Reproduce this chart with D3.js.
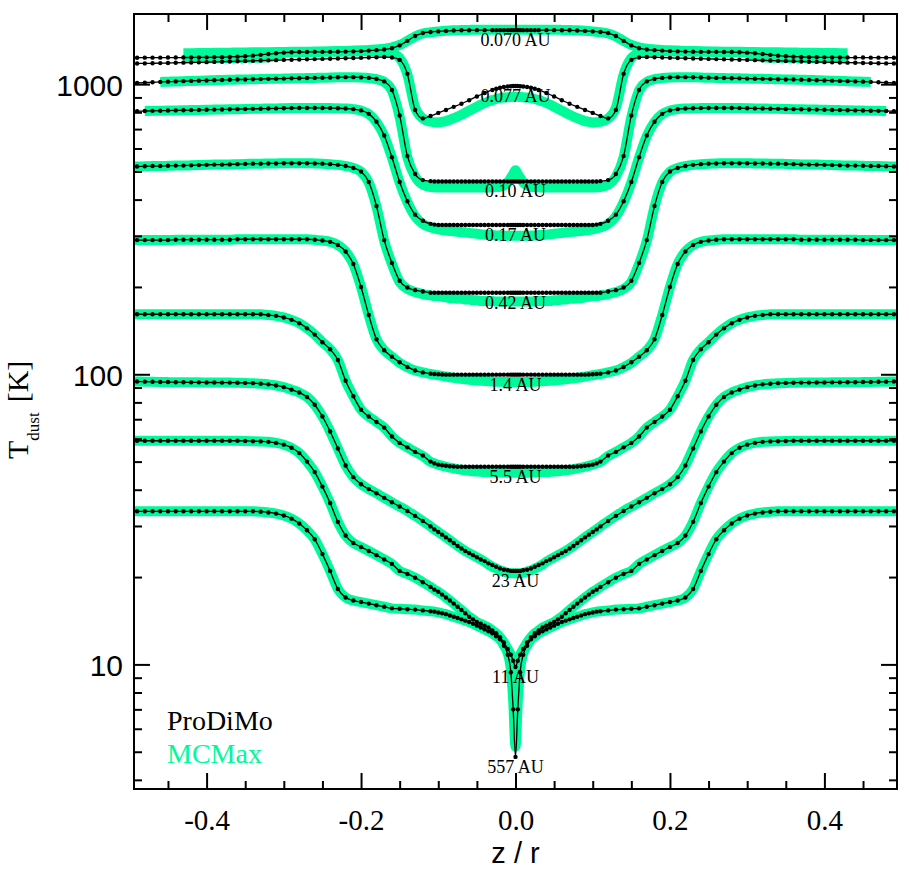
<!DOCTYPE html>
<html>
<head>
<meta charset="utf-8">
<script src="https://cdn.jsdelivr.net/npm/d3@7"></script>
<style>
  body { margin: 0; background: #fff; }
</style>
</head>
<body>
<script>
// z/r grid of the vertical cuts (upper half, mirrored for z < 0)
var zGrid = [0, 0.003, 0.006, 0.01,
  0.015, 0.02, 0.025, 0.03, 0.035, 0.04, 0.045, 0.05, 0.055, 0.06,
  0.065, 0.07, 0.075, 0.08, 0.085, 0.09, 0.095, 0.10, 0.105, 0.11,
  0.12, 0.13, 0.14, 0.15, 0.16, 0.17, 0.18, 0.19, 0.20, 0.21,
  0.22, 0.23, 0.24, 0.25, 0.26, 0.27, 0.28, 0.29, 0.30, 0.31,
  0.32, 0.33, 0.34, 0.35, 0.36, 0.37, 0.38, 0.39, 0.40, 0.41,
  0.42, 0.43, 0.44, 0.45, 0.46, 0.47, 0.48, 0.49, 0.50];

var radiusLabels = ['0.070 AU', '0.077 AU', '0.10 AU', '0.17 AU', '0.42 AU',
  '1.4 AU', '5.5 AU', '23 AU', '11 AU', '557 AU'];

// ProDiMo dust temperatures [K] on zGrid (null = no grid point there)
var pd070 = [1535, 1535, 1535, 1535,
  1535, 1535, 1535, 1535, null, 1535, null, 1535, null, 1534,
  null, 1533, null, 1530, null, 1526, null, 1520, null, 1512,
  1500, 1465, 1410, 1360, 1330, 1316, 1310, 1305, 1300, 1297,
  1295, 1293, 1292, 1292, 1292, 1291, 1290, 1288, 1284, 1278,
  1270, 1262, 1254, 1248, 1244, 1241, 1239, 1238, 1237, 1236,
  1236, 1235, 1235, 1235, 1234, 1234, 1234, 1233, 1233];
var pd077 = [985, 985, 984, 982,
  978, 972, 964, 955, null, 932, null, 907, null, 880,
  null, 856, null, 835, null, 815, null, 796, null, 777,
  762, 815, 1085, 1212, 1236, 1240, 1238, 1235, 1232, 1230,
  1228, 1226, 1224, 1222, 1220, 1218, 1216, 1214, 1212, 1210,
  1208, 1206, 1203, 1201, 1199, 1197, 1195, 1193, 1191, 1189,
  1188, 1186, 1185, 1183, 1182, 1180, 1179, 1178, 1176];
var pd010 = [462, 462, 462, 462,
  462, 462, 462, 462, 462, 462, 462, 462, 462, 462,
  462, 462, 462, 462, 462, 462, 462, 462, 462, 463,
  467, 490, 565, 780, 955, 1022, 1042, 1051, 1055, 1057,
  1057, 1056, 1054, 1052, 1051, 1050, 1048, 1047, 1045, 1044,
  1043, 1041, 1040, 1038, 1037, 1035, 1034, 1032, 1030, 1028,
  1026, 1024, 1022, 1020, 1018, 1015, 1012, 1009, 1005];
var pd017 = [327, 327, 327, 327,
  327, 327, 327, 327, 327, 327, 327, 327, 327, 327,
  327, 327, 327, 327, 327, 327, 327, 327, 328, 330,
  338, 355, 395, 460, 560, 665, 742, 790, 812, 820,
  824, 826, 827, 828, 828, 828, 828, 827, 826, 825,
  824, 823, 822, 821, 820, 819, 818, 817, 816, 815,
  814, 813, 812, 811, 810, 809, 808, 807, 806];
var pd042 = [191, 191, 191, 191,
  191, 191, 191, 191, 191, 191, 191, 191, 191, 191,
  191, 191, 191, 191, 191, 191, 191, 191, 191, 191,
  193, 195, 199, 210, 242, 290, 380, 460, 500, 514,
  522, 527, 530, 532, 533, 534, 534, 534, 534, 533,
  533, 532, 532, 531, 530, 529, 528, 528, 527, 526,
  525, 524, 524, 523, 522, 522, 521, 520, 520];
var pd14 = [99.7, 99.7, 99.7, 99.7,
  99.7, 99.7, 99.7, 99.7, 99.7, 99.7, 99.7, 99.7, 99.7, 99.7,
  99.7, 99.7, 99.7, 99.7, 99.7, 99.7, 99.8, 100, 100.2, 100.5,
  101.5, 103, 106, 110, 115, 121, 132, 160, 200, 240,
  265, 279, 286, 289, 291, 292, 292, 292, 292, 292,
  292, 292, 292, 292, 292, 291, 291, 291, 291, 291,
  291, 291, 291, 290, 290, 290, 290, 290, 290];
var pd55 = [48, 48, 48, 48,
  48, 48, 48, 48, 48, 48, 48, 48, 48, 48,
  48, 48, 48, 48.1, 48.2, 48.4, 48.6, 48.8, 49.3, 50,
  52.5, 54, 56, 58, 61, 65.5, 68.5, 71.5, 75.5, 84,
  95, 112, 122, 129, 137, 144, 150, 154, 157, 159,
  160, 161, 161, 161, 161, 161, 161, 161, 161, 161,
  161, 161, 161, 161, 161, 161, 161, 161, 161];
var pd23 = [21.0, 21.0, 21.0, 21.1,
  21.2, 21.4, 21.7, 22.0, 22.3, 22.7, 23.0, 23.4, 23.8, 24.2,
  24.6, 25.1, 25.6, 26.2, 26.8, 27.4, 28.0, 28.6, 29.2, 29.9,
  31.2, 32.5, 33.8, 35.0, 36.2, 37.5, 38.9, 40.2, 41.8, 44.2,
  48.5, 55.5, 63.5, 71.5, 78.5, 83.5, 86.5, 88.5, 90.3, 91.5,
  92.3, 92.8, 93.2, 93.4, 93.5, 93.6, 93.6, 93.7, 93.7, 93.8,
  93.8, 93.9, 93.9, 94.0, 94.1, 94.2, 94.3, 94.4, 94.5];
var pd11 = [9.8, 10.3, 10.8, 11.3,
  11.9, 12.4, 12.8, 13.1, 13.4, 13.6, 13.8, 14.0, 14.3, 14.6,
  15.0, 15.4, 15.8, 16.2, 16.6, 17.0, 17.4, 17.8, 18.1, 18.5,
  19.2, 19.9, 20.5, 21.0, 22.2, 23.0, 23.8, 24.6, 25.4, 26.2,
  27.8, 31.0, 36.0, 41.0, 46.0, 50.0, 53.5, 55.8, 57.2, 58.0,
  58.5, 58.7, 58.8, 58.9, 59.0, 59.0, 59.0, 59.0, 59.0, 59.0,
  59.0, 59.0, 59.0, 59.0, 59.0, 59.0, 59.0, 59.0, 59.0];
var pd557 = [4.8, 7.0, 9.4, 10.8,
  11.6, 12.2, 12.5, 12.8, 13.0, 13.2, 13.4, 13.6, 13.8, 14.0,
  14.15, 14.3, 14.45, 14.6, 14.75, 14.9, 15.0, 15.1, 15.2, 15.25,
  15.35, 15.45, 15.5, 15.55, 15.6, 15.8, 16.0, 16.2, 16.4, 16.6,
  17.0, 18.2, 21.0, 24.0, 27.0, 29.0, 30.6, 31.8, 32.6, 33.1,
  33.4, 33.6, 33.7, 33.7, 33.7, 33.7, 33.7, 33.7, 33.7, 33.7,
  33.7, 33.7, 33.7, 33.7, 33.7, 33.7, 33.7, 33.7, 33.7];

// MCMax dust temperatures [K] on the same grid (shorter where the cut ends)
var mc070 = [1540, 1540, 1540, 1540,
  1540, 1540, 1540, 1540, 1540, 1540, 1540, 1540, 1540, 1538,
  1537, 1536, 1535, 1533, 1531, 1528, 1524, 1520, 1515, 1510,
  1495, 1460, 1410, 1365, 1340, 1325, 1318, 1312, 1308, 1305,
  1302, 1300, 1298, 1296, 1295, 1294, 1293, 1292, 1291, 1290,
  1289, 1288, 1287, 1286, 1285, 1284, 1283, 1282, 1281, 1280,
  1279, 1278];
var mc077 = [904, 904, 903, 902,
  899, 895, 889, 881, 872, 861, 849, 836, 823, 810,
  797, 785, 773, 763, 754, 746, 741, 738, 739, 742,
  762, 830, 1080, 1230, 1280, 1295, 1298, 1298, 1297, 1296,
  1295, 1294, 1293, 1292, 1291, 1290, 1289, 1287, 1282, 1252,
  1238, 1233, 1232, 1231, 1230, 1230, 1229, 1229, 1228, 1228,
  1227, 1227];
var mc010 = [505, 490, 476, 458,
  448, 443, 442, 441, 440, 440, 440, 440, 440, 440,
  440, 440, 440, 440, 440, 440, 440, 440, 441, 442,
  450, 480, 560, 770, 950, 1018, 1040, 1050, 1055, 1057,
  1057, 1056, 1054, 1052, 1051, 1050, 1048, 1047, 1045, 1044,
  1043, 1041, 1040, 1038, 1037, 1035, 1034, 1032, 1030, 1028,
  1026, 1024, 1022, 1020, 1018];
var mc017 = [300, 300, 300, 300,
  300, 301, 301, 302, 302, 303, 304, 305, 306, 307,
  308, 309, 310, 311, 312, 313, 314, 316, 318, 321,
  330, 350, 392, 458, 558, 663, 740, 789, 811, 820,
  824, 826, 827, 828, 828, 828, 828, 827, 826, 825,
  824, 823, 822, 821, 820, 819, 818, 817, 816, 815,
  814, 813, 812, 811, 810, 809, 808];
var mc042 = [178, 178, 178, 178,
  178, 178, 178, 179, 179, 179, 179, 180, 180, 181,
  181, 182, 182, 183, 183, 184, 185, 186, 186, 187,
  189, 192, 197, 208, 240, 288, 378, 458, 499, 514,
  522, 527, 530, 532, 533, 534, 534, 534, 534, 533,
  533, 532, 532, 531, 530, 529, 528, 528, 527, 526,
  525, 524, 524, 523, 522, 522, 521, 520, 520];
var mc14 = [94, 94, 94, 94,
  94.1, 94.2, 94.3, 94.5, 94.6, 94.8, 95, 95.2, 95.5, 95.8,
  96.1, 96.5, 96.9, 97.3, 97.7, 98.2, 98.7, 99.2, 99.7, 100.2,
  101.5, 103, 105.8, 109.5, 115, 121, 132, 160, 200, 240,
  265, 279, 286, 289, 291, 292, 292, 292, 292, 292,
  292, 292, 292, 292, 292, 291, 291, 291, 291, 291,
  291, 291, 291, 290, 290, 290, 290, 290, 290];
var mc55 = [45.8, 45.8, 45.8, 45.8,
  45.8, 45.9, 45.9, 46, 46, 46, 46.1, 46.2, 46.3, 46.5,
  46.7, 46.9, 47.1, 47.4, 47.7, 48, 48.4, 48.8, 49.3, 49.9,
  52.3, 54, 56, 58, 61, 65.5, 68.5, 71.5, 75.5, 84,
  95, 112, 122, 129, 137, 144, 150, 154, 157, 159,
  160, 161, 161, 161, 161, 161, 161, 161, 161, 161,
  161, 161, 161, 161, 161, 161, 161, 161, 161];
var mc23 = [20.6, 20.6, 20.6, 20.7,
  20.9, 21.1, 21.4, 21.7, 22.1, 22.6, 23.0, 23.4, 23.8, 24.2,
  24.6, 25.1, 25.6, 26.2, 26.8, 27.4, 28.0, 28.6, 29.2, 29.9,
  31.2, 32.5, 33.8, 35.0, 36.2, 37.5, 38.9, 40.2, 41.8, 44.2,
  48.5, 55.5, 63.5, 71.5, 78.5, 83.5, 86.5, 88.5, 90.3, 91.5,
  92.3, 92.8, 93.2, 93.4, 93.5, 93.6, 93.6, 93.7, 93.7, 93.8,
  93.8, 93.9, 93.9, 94.0, 94.1, 94.2, 94.3, 94.4, 94.5];
var mc11 = [9.6, 10.2, 10.8, 11.3,
  11.9, 12.4, 12.8, 13.1, 13.4, 13.6, 13.8, 14.0, 14.3, 14.6,
  15.0, 15.4, 15.8, 16.2, 16.6, 17.0, 17.4, 17.8, 18.1, 18.5,
  19.2, 19.9, 20.5, 21.0, 22.2, 23.0, 23.8, 24.6, 25.4, 26.2,
  27.8, 31.0, 36.0, 41.0, 46.0, 50.0, 53.5, 55.8, 57.2, 58.0,
  58.5, 58.7, 58.8, 58.9, 59.0, 59.0, 59.0, 59.0, 59.0, 59.0,
  59.0, 59.0, 59.0, 59.0, 59.0, 59.0, 59.0, 59.0, 59.0];
var mc557 = [5.2, 7.5, 9.6, 10.9,
  11.6, 12.2, 12.5, 12.8, 13.0, 13.2, 13.4, 13.6, 13.8, 14.0,
  14.15, 14.3, 14.45, 14.6, 14.75, 14.9, 15.0, 15.1, 15.2, 15.25,
  15.35, 15.45, 15.5, 15.55, 15.6, 15.8, 16.0, 16.2, 16.4, 16.6,
  17.0, 18.2, 21.0, 24.0, 27.0, 29.0, 30.6, 31.8, 32.6, 33.1,
  33.4, 33.6, 33.7, 33.7, 33.7, 33.7, 33.7, 33.7, 33.7, 33.7,
  33.7, 33.7, 33.7, 33.7, 33.7, 33.7, 33.7, 33.7, 33.7];

var xMajor = [-0.4, -0.2, 0.0, 0.2, 0.4];
var xMinor = [-0.45, -0.35, -0.3, -0.25, -0.15, -0.1, -0.05, 0.05, 0.1, 0.15, 0.25, 0.3, 0.35, 0.45];
var yMajor = [10, 100, 1000];
var yMinor = [4, 5, 6, 7, 8, 9, 20, 30, 40, 50, 60, 70, 80, 90, 200, 300, 400, 500, 600, 700, 800, 900];

var SERIF = "'Liberation Serif', 'Times New Roman', serif";
var SANS = "'Liberation Sans', Arial, sans-serif";
var GREEN = '#00fa9a';

// both halves of a cut, z from negative to positive, skipping empty grid points
function mirror(T) {
    var pts = [];
    for (var i = T.length - 1; i > 0; i--) if (T[i] != null) pts.push([-zGrid[i], T[i]]);
    for (var j = 0; j < T.length; j++) if (T[j] != null) pts.push([zGrid[j], T[j]]);
    return pts;
}

function plot_it () {
    var width = 909, height = 873;
    var left = 134, right = 897, top = 14, bottom = 789;

    var svg = d3.select('body').append('svg').attr('width', width).attr('height', height);

    var x = d3.scaleLinear().domain([-0.494, 0.494]).range([left, right]);
    var y = d3.scaleLog().domain([3.72, 1745]).range([bottom, top]);

    svg.append('clipPath').attr('id', 'plotclip')
        .append('rect').attr('x', left).attr('y', top)
        .attr('width', right - left).attr('height', bottom - top);

    var cuts = [
        {label: radiusLabels[0], pd: pd070, mc: mc070},
        {label: radiusLabels[1], pd: pd077, mc: mc077},
        {label: radiusLabels[2], pd: pd010, mc: mc010},
        {label: radiusLabels[3], pd: pd017, mc: mc017},
        {label: radiusLabels[4], pd: pd042, mc: mc042},
        {label: radiusLabels[5], pd: pd14, mc: mc14},
        {label: radiusLabels[6], pd: pd55, mc: mc55},
        {label: radiusLabels[7], pd: pd23, mc: mc23},
        {label: radiusLabels[8], pd: pd11, mc: mc11},
        {label: radiusLabels[9], pd: pd557, mc: mc557}
    ];

    var line = d3.line()
        .x(function (d) { return x(d[0]); })
        .y(function (d) { return y(d[1]); })
        .curve(d3.curveMonotoneX);

    var plot = svg.append('g').attr('clip-path', 'url(#plotclip)');

    // MCMax: thick green bands underneath
    plot.selectAll('.mc').data(cuts).enter().append('path')
        .attr('class', 'mc')
        .attr('d', function (d) { return line(mirror(d.mc)); })
        .attr('fill', 'none')
        .attr('stroke', GREEN)
        .attr('stroke-width', 10);

    // ProDiMo: thin black line with dots
    var pdg = plot.selectAll('.pd').data(cuts).enter().append('g').attr('class', 'pd');
    pdg.append('path')
        .attr('d', function (d) { return line(mirror(d.pd)); })
        .attr('fill', 'none')
        .attr('stroke', '#000')
        .attr('stroke-width', 1.3);
    pdg.selectAll('circle')
        .data(function (d) { return mirror(d.pd); })
        .enter().append('circle')
        .attr('cx', function (d) { return x(d[0]); })
        .attr('cy', function (d) { return y(d[1]); })
        .attr('r', 2.2)
        .attr('fill', '#000');

    // radius labels under the midplane value
    svg.selectAll('.rlab').data(cuts).enter().append('text')
        .attr('class', 'rlab')
        .attr('x', x(0))
        .attr('y', function (d) { return y(d.pd[0]) + 16; })
        .attr('text-anchor', 'middle')
        .style('font-family', SERIF)
        .style('font-size', '18px')
        .text(function (d) { return d.label; });

    // axes: ticks on all four sides, pointing inwards
    function styleAxis(g) {
        g.select('.domain').remove();
        g.selectAll('.tick line').attr('stroke', '#000').attr('stroke-width', 2);
    }
    var fmtX = function (d) { return d.toFixed(1); };

    svg.append('g').attr('transform', 'translate(0,' + bottom + ')')
        .call(d3.axisBottom(x).tickValues(xMajor).tickSize(-16).tickPadding(20).tickFormat(fmtX))
        .call(styleAxis)
        .selectAll('text').style('font-family', SERIF).style('font-size', '29px').attr('fill', '#000');
    svg.append('g').attr('transform', 'translate(0,' + bottom + ')')
        .call(d3.axisBottom(x).tickValues(xMinor).tickSize(-8).tickFormat(''))
        .call(styleAxis);
    svg.append('g').attr('transform', 'translate(0,' + top + ')')
        .call(d3.axisTop(x).tickValues(xMajor).tickSize(-16).tickFormat(''))
        .call(styleAxis);
    svg.append('g').attr('transform', 'translate(0,' + top + ')')
        .call(d3.axisTop(x).tickValues(xMinor).tickSize(-8).tickFormat(''))
        .call(styleAxis);

    svg.append('g').attr('transform', 'translate(' + left + ',0)')
        .call(d3.axisLeft(y).tickValues(yMajor).tickSize(-16).tickPadding(11).tickFormat(d3.format('d')))
        .call(styleAxis)
        .selectAll('text').attr('dy', '0.37em')
        .style('font-family', SANS).style('font-size', '30px').attr('fill', '#000');
    svg.append('g').attr('transform', 'translate(' + left + ',0)')
        .call(d3.axisLeft(y).tickValues(yMinor).tickSize(-8).tickFormat(''))
        .call(styleAxis);
    svg.append('g').attr('transform', 'translate(' + right + ',0)')
        .call(d3.axisRight(y).tickValues(yMajor).tickSize(-16).tickFormat(''))
        .call(styleAxis);
    svg.append('g').attr('transform', 'translate(' + right + ',0)')
        .call(d3.axisRight(y).tickValues(yMinor).tickSize(-8).tickFormat(''))
        .call(styleAxis);

    svg.append('rect')
        .attr('x', left).attr('y', top)
        .attr('width', right - left).attr('height', bottom - top)
        .attr('fill', 'none').attr('stroke', '#000').attr('stroke-width', 2);

    // axis titles
    svg.append('text')
        .attr('x', (left + right) / 2).attr('y', 863)
        .attr('text-anchor', 'middle')
        .style('font-family', SANS).style('font-size', '29px')
        .text('z / r');

    var yt = svg.append('text')
        .attr('transform', 'translate(28,459) rotate(-90)')
        .style('font-family', SERIF).style('font-size', '30px');
    yt.append('tspan').text('T');
    yt.append('tspan').attr('dy', 11).style('font-size', '17px').text('dust');
    yt.append('tspan').attr('dy', -11).attr('dx', 10).text('[K]');

    // legend
    svg.append('text').attr('x', 167).attr('y', 730)
        .style('font-family', SERIF).style('font-size', '28px').attr('fill', '#000')
        .text('ProDiMo');
    svg.append('text').attr('x', 167).attr('y', 763)
        .style('font-family', SERIF).style('font-size', '28px').attr('fill', GREEN)
        .text('MCMax');
}

plot_it();
</script>
</body>
</html>
